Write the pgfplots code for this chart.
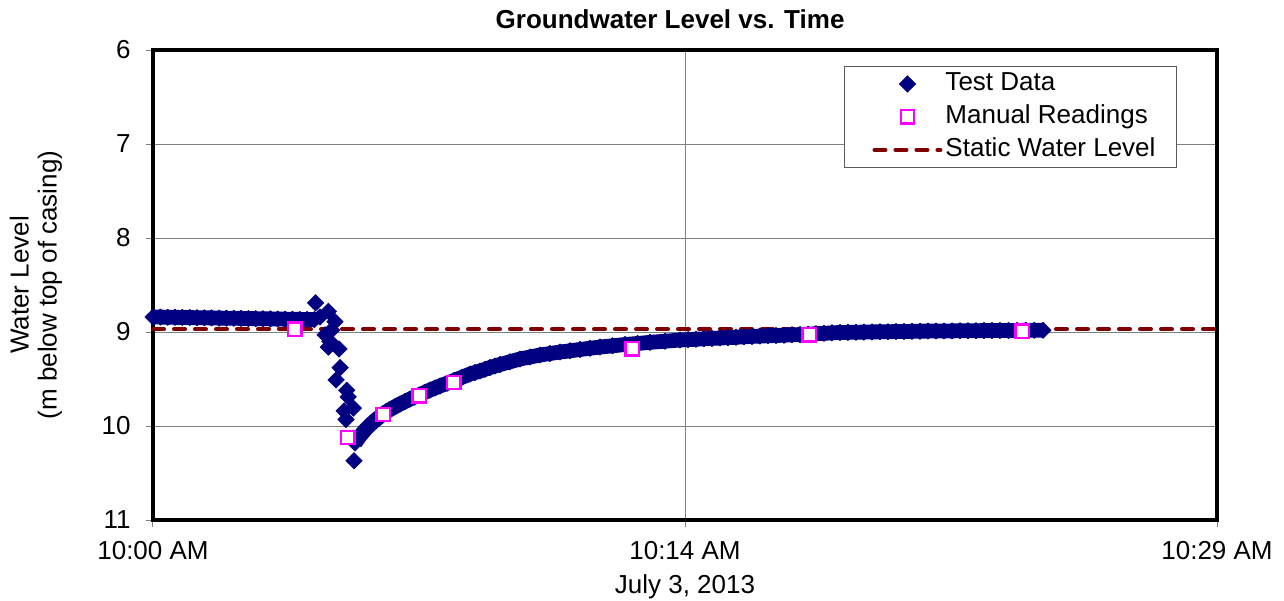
\documentclass[border=0pt]{standalone}
\usepackage{fontspec}
\setmainfont{Liberation Sans}
\usepackage{pgfplots}
\pgfplotsset{compat=1.18}
\definecolor{navyblue}{RGB}{0,0,128}
\definecolor{mag}{RGB}{255,0,255}
\definecolor{swl}{RGB}{128,0,0}
\definecolor{gridgray}{RGB}{128,128,128}
\pgfplotsset{
  marklegend/.style={legend image code/.code={\path (0pt,0pt); \draw[mark repeat=2,mark phase=2,##1] plot coordinates {(5pt,0pt) (21.5pt,0pt) (38pt,0pt)};}},
  linelegend/.style={legend image code/.code={\path (0pt,0pt); \draw[##1] (5pt,0pt) -- (38pt,0pt);}},
  band/.style={navyblue, line width=7.4pt, line join=round, line cap=butt, mark=square*, mark size=2.9pt,
    mark options={rotate=45, solid, draw=navyblue, fill=navyblue, line width=0.3pt}, forget plot},
}
\begin{document}
\begin{tikzpicture}[font=\fontsize{13}{14}\selectfont]
\begin{axis}[
  scale only axis, width=532pt, height=235pt,
  at={(0pt,0pt)}, anchor=south west,
  xmin=0, xmax=29, ymin=6, ymax=11, y dir=reverse,
  xtick={0,14.5,29}, xticklabels={10:00 AM,10:14 AM,10:29 AM},
  ytick={6,7,8,9,10,11},
  grid=major, major grid style={gridgray, line width=0.5pt},
  axis line style={line width=2pt, black},
  tick align=outside, major tick length=3.5pt,
  tick style={gridgray, line width=0.5pt},
  xtick pos=bottom, ytick pos=left,
  clip=false,
  yticklabel style={/pgf/number format/assume math mode=true, xshift=-4.2pt},
  xticklabel style={yshift=-3.7pt},
  title={Groundwater Level vs. Time},
  title style={font=\fontsize{13}{14}\selectfont\bfseries, at={(axis description cs:0.486,1)}, anchor=base, yshift=5pt},
  xlabel={July 3, 2013},
  every axis x label/.style={at={(axis description cs:0.5,0)}, anchor=base, yshift=-36.75pt},
  ylabel={Water Level\\(m below top of casing)},
  every axis y label/.style={at={(axis description cs:-0.11,0.5)}, rotate=90, anchor=center, align=center},
  legend style={at={(axis description cs:0.9624,0.966)}, anchor=north east,
    draw=gray!70!black, line width=0.5pt, fill=white,
    inner xsep=9pt, inner ysep=1.2pt, row sep=1.5pt,
    nodes={text height=9.5pt, text depth=2.5pt, inner sep=1.5pt}},
  legend cell align=left,
]
% static water level (behind)
\addplot[swl, line width=2pt, dash pattern=on 5.5pt off 5pt, line cap=round, forget plot]
  coordinates {(0,8.97) (29,8.97)};

% test data: pre-test static period
\addplot[band] coordinates {
(0.0,8.840) (0.2,8.841) (0.4,8.843) (0.6,8.844) (0.8,8.845) (1.0,8.846)
(1.2,8.848) (1.4,8.849) (1.6,8.850) (1.8,8.852) (2.0,8.853) (2.2,8.854)
(2.4,8.855) (2.6,8.857) (2.8,8.858) (3.0,8.859) (3.2,8.860) (3.4,8.862)
(3.6,8.863) (3.8,8.864) (4.0,8.866) (4.2,8.867) (4.4,8.868)
};

% test data: slug / drawdown (scattered points)
\addplot[only marks, mark=square*, mark size=2.9pt,
  mark options={rotate=45, draw=navyblue, fill=navyblue, line width=0.3pt},
  marklegend]
coordinates {
(4.43,8.69) (4.55,8.84) (4.69,9.03) (4.78,8.78) (4.82,9.10) (4.78,9.16)
(4.87,8.98) (4.96,8.89) (4.99,9.51) (5.07,9.18) (5.10,9.38) (5.21,9.84)
(5.26,9.93) (5.28,9.62) (5.32,9.69) (5.46,9.81) (5.48,10.37)
};
\addlegendentry{Test Data}

% test data: recovery
\addplot[band] coordinates {
(5.506,10.181) (5.574,10.143) (5.642,10.106) (5.710,10.075) (5.778,10.043)
(5.846,10.016) (5.914,9.989) (5.982,9.965) (6.051,9.941) (6.160,9.907)
(6.269,9.872) (6.364,9.848) (6.459,9.824) (6.595,9.795) (6.732,9.766)
(6.868,9.740) (7.005,9.713) (7.127,9.692) (7.250,9.670) (7.400,9.644)
(7.550,9.617) (7.686,9.596) (7.822,9.574) (8.013,9.545) (8.204,9.516)
(8.422,9.482) (8.640,9.447) (8.776,9.431) (8.912,9.415) (9.048,9.397)
(9.185,9.378) (9.321,9.362) (9.457,9.346) (9.730,9.317) (10.003,9.287)
(10.275,9.266) (10.548,9.245) (10.820,9.229) (11.093,9.213) (11.365,9.200)
(11.638,9.186) (11.910,9.173) (12.183,9.160) (12.523,9.147) (12.864,9.133)
(13.205,9.122) (13.546,9.110) (13.955,9.098) (14.364,9.085) (14.582,9.081)
(14.800,9.077) (15.018,9.072) (15.236,9.068) (15.454,9.064) (15.672,9.060)
(15.890,9.056) (16.108,9.051) (16.326,9.047) (16.544,9.043) (16.762,9.040)
(16.980,9.037) (17.198,9.034) (17.416,9.030) (17.634,9.027) (17.852,9.023)
(18.070,9.018) (18.288,9.014) (18.506,9.009) (18.724,9.005) (18.942,9.004)
(19.160,9.002) (19.378,9.001) (19.596,8.999) (19.815,8.998) (20.033,8.997)
(20.251,8.995) (20.469,8.994) (20.687,8.993) (20.905,8.991) (21.123,8.990)
(21.341,8.990) (21.559,8.989) (21.777,8.988) (21.995,8.987) (22.213,8.986)
(22.431,8.986) (22.649,8.985) (22.867,8.985) (23.085,8.984) (23.319,8.984)
(23.553,8.983) (23.788,8.982) (24.022,8.982) (24.257,8.981)
};

% manual readings
\addplot[only marks, mark=square*, mark size=3.3pt,
  mark options={draw=mag, fill=white, line width=1.1pt},
  marklegend]
coordinates {
(3.87,8.97) (5.31,10.12) (6.27,9.88) (7.25,9.68) (8.20,9.54)
(13.06,9.18) (17.88,9.03) (23.69,8.99)
};
\addlegendentry{Manual Readings}

\addlegendimage{swl, line width=2pt, dash pattern=on 5.5pt off 5pt, line cap=round, linelegend}
\addlegendentry{Static Water Level}
\end{axis}
\pgfresetboundingbox
\path[use as bounding box] (-76.5pt,-40pt) rectangle (565.5pt,260pt);
\end{tikzpicture}
\end{document}
